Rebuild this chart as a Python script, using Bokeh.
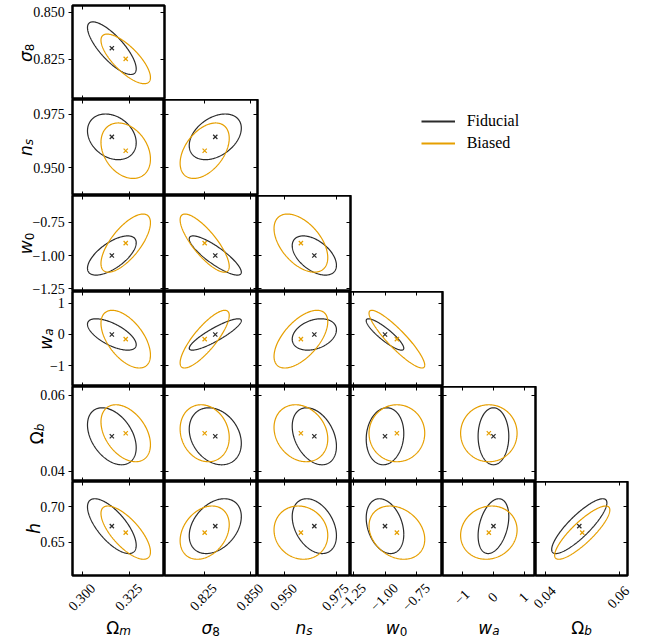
import numpy as np
from bokeh.plotting import figure
from bokeh.models import (LinearAxis, FixedTicker, Range1d, Legend, LegendItem,
                          CustomJSTickFormatter)
from bokeh.layouts import row, column
from bokeh.embed import file_html
from bokeh.resources import INLINE
from bokeh.core.properties import value

# ---------------- data ----------------
names = ["Omega_m", "sigma_8", "n_s", "w_0", "w_a", "Omega_b", "h"]
lab_main = ["Ω", "σ", "n", "w", "w", "Ω", "h"]
lab_sub = ["m", "8", "s", "0", "a", "b", ""]
main_italic = [False, True, True, True, True, False, True]
sub_italic = [True, False, True, False, True, True, False]

range_lo = [0.2946, 0.8037, 0.9370, -1.270, -1.66, 0.0373, 0.6034]
range_hi = [0.3437, 0.8537, 0.9820, -0.550, 1.37, 0.0623, 0.7354]

tick_vals = [[0.300, 0.325], [0.825, 0.850], [0.950, 0.975],
             [-1.25, -1.00, -0.75], [-1, 0, 1], [0.04, 0.06], [0.65, 0.70]]
tick_text = [["0.300", "0.325"], ["0.825", "0.850"], ["0.950", "0.975"],
             ["−1.25", "−1.00", "−0.75"], ["−1", "0", "1"], ["0.04", "0.06"],
             ["0.65", "0.70"]]

fid_mean = [0.3156, 0.8310, 0.9645, -1.000, 0.00, 0.0492, 0.6727]
fid_half = [0.0130, 0.0140, 0.0107, 0.147, 0.50, 0.0075, 0.0385]
bias_mean = [0.3230, 0.8253, 0.9580, -0.907, -0.15, 0.0500, 0.6636]
bias_half = [0.0132, 0.0132, 0.0130, 0.218, 0.92, 0.0075, 0.0374]

# correlations, row parameter (sigma_8 .. h) against column parameter (Omega_m .. Omega_b)
fid_corr = [[-0.78],
            [-0.26, 0.38],
            [0.65, -0.85, -0.50],
            [-0.65, 0.88, 0.30, -0.88],
            [-0.40, -0.25, -0.35, 0.10, 0.00],
            [-0.70, 0.35, -0.35, -0.30, 0.35, 0.85]]
bias_corr = [[-0.75],
             [-0.30, 0.45],
             [0.70, -0.80, -0.50],
             [-0.55, 0.82, 0.60, -0.90],
             [-0.40, -0.15, -0.20, 0.00, 0.00],
             [-0.72, 0.30, -0.10, -0.25, 0.10, 0.85]]

legend_labels = ["Fiducial", "Biased"]
colors = ["#2b2b2b", "#E69F00"]

# ---------------- layout / style ----------------
col_w = [92, 93, 93, 92, 93, 92]
row_h = [94, 96, 96, 95, 95, 94]
HELP_W = 67            # left text strip
PAD_L = 5              # left border of first-column panels (outward ticks)
TOP = 5
BOT_PAD = 2
PAGE_W, PAGE_H = 649, 638
OW = 2.5
TICK_FONT = "Liberation Serif"
LAB_FONT = "DejaVu Sans"

lefts = [HELP_W + PAD_L + sum(col_w[:c]) for c in range(6)]
rights = [lefts[c] + col_w[c] for c in range(6)]
tops = [TOP + sum(row_h[:r]) for r in range(6)]
bottoms = [tops[r] + row_h[r] for r in range(6)]
LEFT_H = bottoms[-1] + BOT_PAD          # height of the panel block
BOT_H = PAGE_H - LEFT_H                 # height of the bottom text strip

ylab_base = [None, 25, 25, 25, 45, 36, 33.3]     # page x of y-title baselines
XLAB_BASE = 627                                  # page y of x-title baselines
main_w = {"Ω": 13.0, "σ": 10.2, "n": 10.8, "w": 13.9, "h": 10.8}
sub_w = {"m": 11.7, "8": 7.6, "s": 6.3, "0": 7.6, "a": 7.4, "b": 7.6, "": 0.0}

t = np.linspace(0, 2 * np.pi, 241)


def ellipse(mean, half, rho, xi, yi):
    x = mean[xi] + half[xi] * np.cos(t)
    y = mean[yi] + half[yi] * (rho * np.cos(t) + np.sqrt(1 - rho ** 2) * np.sin(t))
    return x, y


def mk_axis(ticks, tin, tout):
    return LinearAxis(ticker=FixedTicker(ticks=ticks),
                      major_tick_in=tin, major_tick_out=tout,
                      minor_tick_in=0, minor_tick_out=0,
                      axis_line_color=None, major_tick_line_color="black",
                      major_tick_line_width=1,
                      formatter=CustomJSTickFormatter(code="return '';"),
                      major_label_text_font_size="0px", major_label_standoff=0)


def bare(width, height, xr, yr):
    f = figure(width=width, height=height, x_range=xr, y_range=yr,
               x_axis_location=None, y_axis_location=None,
               toolbar_location=None, tools="", output_backend="svg",
               min_border=0, outline_line_color=None,
               background_fill_color="white", border_fill_color="white")
    f.xgrid.visible = False
    f.ygrid.visible = False
    return f


def title_text(f, i, x, y, vertical):
    m, s = lab_main[i], lab_sub[i]
    split = (main_w[m] - sub_w[s]) / 2.0
    ang = np.pi / 2 if vertical else 0.0
    if vertical:
        mx, my, sx, sy = x, y + split, x + 3.5, y + split
    else:
        mx, my, sx, sy = x + split, y, x + split, y - 3.5
    f.text(x=[mx], y=[my], text=[m], angle=ang, text_align="right",
           text_baseline="alphabetic", text_font=value(LAB_FONT),
           text_font_size=value("17px"), text_color="black",
           text_font_style="italic" if main_italic[i] else "normal")
    if s:
        f.text(x=[sx], y=[sy], text=[s], angle=ang, text_align="left",
               text_baseline="alphabetic", text_font=value(LAB_FONT),
               text_font_size=value("12px"), text_color="black",
               text_font_style="italic" if sub_italic[i] else "normal")


# ---------------- left text strip (tick labels + y titles) ----------------
left = bare(HELP_W, LEFT_H, Range1d(0, HELP_W), Range1d(0, LEFT_H))
for r in range(6):
    i = r + 1
    ppx = (range_hi[i] - range_lo[i]) / (bottoms[r] - tops[r])
    left.extra_y_ranges[f"p{i}"] = Range1d(range_lo[i] + (bottoms[r] - LEFT_H) * ppx,
                                           range_lo[i] + bottoms[r] * ppx)
    left.text(x=[HELP_W + PAD_L - 7.7] * len(tick_vals[i]), y=tick_vals[i],
              text=tick_text[i], y_range_name=f"p{i}",
              text_align="right", text_baseline="middle",
              text_font=value(TICK_FONT), text_font_size=value("14px"),
              text_color="black")
    cy = LEFT_H - (tops[r] + bottoms[r]) / 2.0
    title_text(left, i, ylab_base[i], cy, True)

# ---------------- bottom text strip (rotated tick labels + x titles) ----------------
bottom = bare(PAGE_W, BOT_H, Range1d(0, PAGE_W), Range1d(0, BOT_H))
for c in range(6):
    ppx = (range_hi[c] - range_lo[c]) / (rights[c] - lefts[c])
    bottom.extra_x_ranges[f"c{c}"] = Range1d(range_lo[c] - lefts[c] * ppx,
                                             range_lo[c] + (PAGE_W - lefts[c]) * ppx)
    bottom.text(x=tick_vals[c], y=[PAGE_H - 596.5] * len(tick_vals[c]),
                text=tick_text[c], x_range_name=f"c{c}", x_offset=-1,
                angle=np.pi / 4, text_align="center", text_baseline="middle",
                text_font=value(TICK_FONT), text_font_size=value("14px"),
                text_color="black")
    cx = (lefts[c] + rights[c]) / 2.0
    title_text(bottom, c, cx, PAGE_H - XLAB_BASE, False)

# ---------------- panels ----------------
rows = []
for r in range(6):
    yi = r + 1
    figs = []
    for c in range(r + 1):
        xi = c
        mbl = PAD_L if c == 0 else 0
        mbr = 3 if c == r else 0
        mbt = TOP if r == 0 else 0
        mbb = BOT_PAD if r == 5 else 0
        p = figure(width=col_w[c] + mbl + mbr, height=row_h[r] + mbt + mbb,
                   x_range=Range1d(range_lo[xi], range_hi[xi]),
                   y_range=Range1d(range_lo[yi], range_hi[yi]),
                   x_axis_location=None, y_axis_location=None,
                   toolbar_location=None, tools="", output_backend="svg",
                   min_border=0, min_border_left=mbl, min_border_right=mbr,
                   min_border_top=mbt, min_border_bottom=mbb,
                   outline_line_color="black", outline_line_width=OW,
                   background_fill_color="white", border_fill_color="white")
        p.xgrid.visible = False
        p.ygrid.visible = False

        if c == 0:
            p.add_layout(mk_axis(tick_vals[yi], 0, 4), "left")
        else:
            p.add_layout(mk_axis(tick_vals[yi], 4, 0), "left")
        p.add_layout(mk_axis(tick_vals[yi], 4, 0), "right")
        p.add_layout(mk_axis(tick_vals[xi], 4, 0), "below")
        p.add_layout(mk_axis(tick_vals[xi], 4, 0), "above")

        for mean, half, corr, col in [(fid_mean, fid_half, fid_corr, colors[0]),
                                      (bias_mean, bias_half, bias_corr, colors[1])]:
            ex, ey = ellipse(mean, half, corr[r][c], xi, yi)
            p.line(ex, ey, line_color=col, line_width=1.2, level="overlay")
            p.scatter([mean[xi]], [mean[yi]], marker="x", size=6,
                      line_color=col, line_width=1.2, level="overlay")
        figs.append(p)

    if r == 1:
        lw = 300
        lg = bare(lw, row_h[r], Range1d(0, 1), Range1d(0, 1))
        # legend proxies: one undefined point each, so nothing is drawn in the strip
        r0 = lg.line(x=[np.nan], y=[np.nan], line_color=colors[0], line_width=1.8)
        r1 = lg.line(x=[np.nan], y=[np.nan], line_color=colors[1], line_width=1.8)
        x0 = rights[1] + 3
        leg = Legend(items=[LegendItem(label=legend_labels[0], renderers=[r0]),
                            LegendItem(label=legend_labels[1], renderers=[r1])],
                     location=(420.7 - x0, bottoms[1] - 153), orientation="vertical",
                     padding=0, margin=0, spacing=2,
                     glyph_width=34, glyph_height=20, label_height=20,
                     label_standoff=12, border_line_color=None,
                     background_fill_alpha=0,
                     label_text_font=TICK_FONT, label_text_font_size="16px",
                     label_text_color="black")
        lg.add_layout(leg)
        figs.append(lg)
    rows.append(row(*figs, spacing=0))

panels = column(*rows, spacing=0)
layout = column(row(left, panels, spacing=0), bottom, spacing=0)
open("out.html", "w").write(file_html(layout, INLINE, title="corner"))
